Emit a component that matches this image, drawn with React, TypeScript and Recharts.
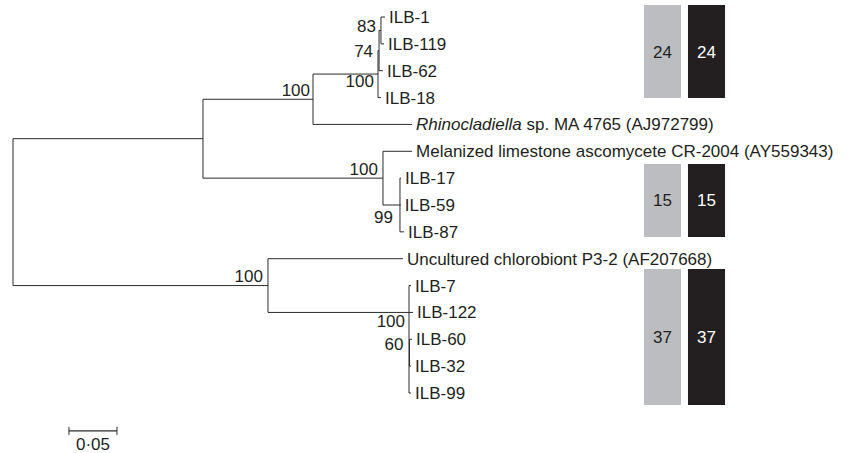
import React from 'react';
import { ComposedChart, XAxis, YAxis, ReferenceLine, ReferenceArea, Scatter } from 'recharts';

// ---------- data ----------
const tipNames = [
  'ILB-1', 'ILB-119', 'ILB-62', 'ILB-18',
  'Rhinocladiella sp. MA 4765 (AJ972799)',
  'Melanized limestone ascomycete CR-2004 (AY559343)',
  'ILB-17', 'ILB-59', 'ILB-87',
  'Uncultured chlorobiont P3-2 (AF207668)',
  'ILB-7', 'ILB-122', 'ILB-60', 'ILB-32', 'ILB-99',
];
const italicGenus = 'Rhinocladiella';

// [child, parent, branch length (substitutions/site)]
const branches: [string, string, number][] = [
  ['A', 'root', 0.1979],
  ['C', 'root', 0.2656],
  ['A1', 'A', 0.1146],
  ['NB', 'A', 0.1875],
  ['N1', 'A1', 0.0677],
  ['Rhinocladiella sp. MA 4765 (AJ972799)', 'A1', 0.1031],
  ['N74', 'N1', 0.0011],
  ['ILB-18', 'N1', 0.0031],
  ['N83', 'N74', 0.002],
  ['ILB-62', 'N74', 0.0041],
  ['ILB-1', 'N83', 0.0042],
  ['ILB-119', 'N83', 0.0032],
  ['Melanized limestone ascomycete CR-2004 (AY559343)', 'NB', 0.0303],
  ['N99', 'NB', 0.0177],
  ['ILB-17', 'N99', 0.0011],
  ['ILB-59', 'N99', 0.0009],
  ['ILB-87', 'N99', 0.0042],
  ['Uncultured chlorobiont P3-2 (AF207668)', 'C', 0.1406],
  ['N100c', 'C', 0.1469],
  ['ILB-7', 'N100c', 0.0021],
  ['ILB-122', 'N100c', 0.0042],
  ['N60', 'N100c', 0.0005],
  ['ILB-60', 'N60', 0.0026],
  ['ILB-32', 'N60', 0.0016],
  ['ILB-99', 'N100c', 0.0021],
];

const bootstrapNodes = ['A1', 'N1', 'N74', 'N83', 'NB', 'N99', 'C', 'N100c', 'N60'];
const bootstrapValues = [100, 100, 74, 83, 100, 99, 100, 100, 60];

const clusterCountsA = [24, 15, 37];
const clusterCountsB = [24, 15, 37];

const scaleLength = 0.05;
const scaleLabel = '0·05';

// ---------- layout ----------
const W = 851;
const H = 453;
const LEFT = 13;
const PX_PER_UNIT = 960;
const X_DOMAIN: [number, number] = [0, (W - LEFT) / PX_PER_UNIT];
const Y_DOMAIN: [number, number] = [-0.633, 16.234];
const FONT = '"Liberation Sans", Arial, Helvetica, sans-serif';
const INK = '#231f20';
const LINE = '#2b2b2b';
const GREY = '#bcbdc0';
const FS = 17;

const nodeYFromChild: Record<string, string> = { N100c: 'ILB-122' };
const bootDx = [-3, -4, -6, -5, -5, -7, -5, -4, -6];
const bootDy = [-9, 7, 0, -4, -9, 12, -10, 9, -9];

const barRows: [number, number][] = [[-0.45, 3.02], [5.47, 8.19], [9.38, 14.45]];
const barColA: [number, number] = [0.6573, 0.6958];
const barColB: [number, number] = [0.7031, 0.7417];

const scaleX0 = 0.0583;
const scaleRow = 15.41;
const scaleTick = 0.15;

// ---------- tree geometry ----------
function buildTree() {
  const children: Record<string, string[]> = {};
  const len: Record<string, number> = {};
  branches.forEach(([c, p, l]) => {
    (children[p] = children[p] || []).push(c);
    len[c] = l;
  });
  const x: Record<string, number> = { root: 0 };
  const visit = (n: string) => {
    (children[n] || []).forEach((c) => {
      x[c] = x[n] + len[c];
      visit(c);
    });
  };
  visit('root');
  const y: Record<string, number> = {};
  tipNames.forEach((t, i) => (y[t] = i));
  const getY = (n: string): number => {
    if (y[n] !== undefined) return y[n];
    const ys = children[n].map(getY);
    y[n] = nodeYFromChild[n] ? getY(nodeYFromChild[n]) : (Math.min(...ys) + Math.max(...ys)) / 2;
    return y[n];
  };
  getY('root');
  const segs: { x1: number; y1: number; x2: number; y2: number }[] = [];
  branches.forEach(([c, p]) => {
    segs.push({ x1: x[p], y1: y[c], x2: x[c], y2: y[c] });
  });
  Object.keys(children).forEach((n) => {
    const ys = children[n].map((c) => y[c]);
    segs.push({ x1: x[n], y1: Math.min(...ys), x2: x[n], y2: Math.max(...ys) });
  });
  return { x, y, segs };
}

const tree = buildTree();

const tipPoints = tipNames.map((t, i) => ({ x: tree.x[t], y: i, name: t }));
const bootPoints = bootstrapNodes.map((n, i) => ({
  x: tree.x[n],
  y: tree.y[n],
  v: bootstrapValues[i],
  i,
}));
const scaleLabelPoint = [{ x: scaleX0 + scaleLength / 2, y: scaleRow }];

const TipLabel = (p: any) => {
  const name: string = p.payload.name;
  const italic = name.startsWith(italicGenus);
  return (
    <text x={p.cx + 4} y={p.cy} dy="0.35em" fontFamily={FONT} fontSize={FS} fill={INK}>
      {italic ? (
        <>
          <tspan fontStyle="italic">{italicGenus}</tspan>
          {name.slice(italicGenus.length)}
        </>
      ) : (
        name
      )}
    </text>
  );
};

const BootLabel = (p: any) => {
  const i = p.payload.i;
  return (
    <text
      x={p.cx + bootDx[i]}
      y={p.cy + bootDy[i]}
      dy="0.35em"
      textAnchor="end"
      fontFamily={FONT}
      fontSize={FS}
      fill={INK}
    >
      {p.payload.v}
    </text>
  );
};

const ScaleText = (p: any) => (
  <text x={p.cx} y={p.cy + 13} dy="0.35em" textAnchor="middle" fontFamily={FONT} fontSize={FS} fill={INK}>
    {scaleLabel}
  </text>
);

export default function App() {
  return (
    <div style={{ position: 'absolute', left: 0, top: 0, background: '#fff' }}>
      <ComposedChart width={W} height={H} margin={{ top: 0, right: 0, bottom: 0, left: LEFT }} style={{ overflow: 'visible' }}>
        <XAxis type="number" dataKey="x" domain={X_DOMAIN} allowDataOverflow hide />
        <YAxis type="number" dataKey="y" domain={Y_DOMAIN} allowDataOverflow reversed hide />
        {barRows.map((r, i) => (
          <ReferenceArea
            key={'ga' + i}
            x1={barColA[0]}
            x2={barColA[1]}
            y1={r[0]}
            y2={r[1]}
            fill={GREY}
            fillOpacity={1}
            stroke="none"
            ifOverflow="visible"
            label={{ value: String(clusterCountsA[i]), position: 'center', fill: INK, fontSize: FS, fontFamily: FONT }}
          />
        ))}
        {barRows.map((r, i) => (
          <ReferenceArea
            key={'gb' + i}
            x1={barColB[0]}
            x2={barColB[1]}
            y1={r[0]}
            y2={r[1]}
            fill={INK}
            fillOpacity={1}
            stroke="none"
            ifOverflow="visible"
            label={{ value: String(clusterCountsB[i]), position: 'center', fill: '#ffffff', fontSize: FS, fontFamily: FONT }}
          />
        ))}
        {tree.segs.map((s, i) => (
          <ReferenceLine
            key={'s' + i}
            segment={[{ x: s.x1, y: s.y1 }, { x: s.x2, y: s.y2 }]}
            stroke={LINE}
            strokeWidth={1}
            ifOverflow="visible"
          />
        ))}
        <ReferenceLine
          segment={[{ x: scaleX0, y: scaleRow }, { x: scaleX0 + scaleLength, y: scaleRow }]}
          stroke={LINE}
          strokeWidth={1.3}
          ifOverflow="visible"
        />
        <ReferenceLine
          segment={[{ x: scaleX0, y: scaleRow - scaleTick }, { x: scaleX0, y: scaleRow + scaleTick }]}
          stroke={LINE}
          strokeWidth={1}
          ifOverflow="visible"
        />
        <ReferenceLine
          segment={[{ x: scaleX0 + scaleLength, y: scaleRow - scaleTick }, { x: scaleX0 + scaleLength, y: scaleRow + scaleTick }]}
          stroke={LINE}
          strokeWidth={1}
          ifOverflow="visible"
        />
        <Scatter data={tipPoints} shape={TipLabel} isAnimationActive={false} />
        <Scatter data={bootPoints} shape={BootLabel} isAnimationActive={false} />
        <Scatter data={scaleLabelPoint} shape={ScaleText} isAnimationActive={false} />
      </ComposedChart>
    </div>
  );
}
